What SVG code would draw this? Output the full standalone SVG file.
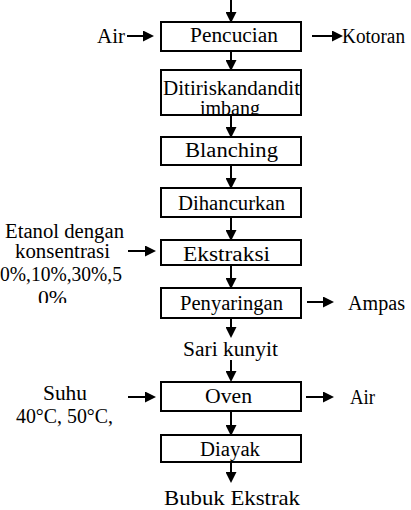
<svg xmlns="http://www.w3.org/2000/svg" width="411" height="510" viewBox="0 0 411 510">
<style>
text{font-family:"Liberation Serif","DejaVu Serif",serif;font-size:20px;fill:#000}
.box{fill:#fff;stroke:#000;stroke-width:2}
.ln{stroke:#000;stroke-width:2;fill:none;marker-end:url(#ah)}
.big{font-size:22px}
</style>
<defs>
<marker id="ah" markerUnits="userSpaceOnUse" markerWidth="11" markerHeight="11" refX="2" refY="5.5" orient="auto" viewBox="0 0 11 11">
<path d="M0,0 L11,5.5 L0,11 z" fill="#000"/>
</marker>
<clipPath id="clipDit"><rect x="161" y="70" width="140" height="46"/></clipPath>
<clipPath id="clipEt"><rect x="0" y="215" width="160" height="88"/></clipPath>
</defs>
<g id="connectors">
<path class="ln" d="M231,0 V14"/>
<path class="ln" d="M231,51 V62"/>
<path class="ln" d="M231,115 V129"/>
<path class="ln" d="M231,165 V180"/>
<path class="ln" d="M231,217 V232"/>
<path class="ln" d="M231,265 V280"/>
<path class="ln" d="M231,318 V329"/>
<path class="ln" d="M231,360 V373"/>
<path class="ln" d="M231,411 V427"/>
<path class="ln" d="M231,462 V474"/>
<path class="ln" d="M127,36 H145"/>
<path class="ln" d="M312,36 H334"/>
<path class="ln" d="M128,251 H147"/>
<path class="ln" d="M307,302 H325"/>
<path class="ln" d="M128,397 H147"/>
<path class="ln" d="M306,397 H325"/>
</g>
<g id="pencucian">
<rect class="box" x="161" y="22" width="140" height="29"/>
<text x="190" y="42" textLength="88" lengthAdjust="spacingAndGlyphs">Pencucian</text>
</g>
<g id="ditiriskan">
<rect class="box" x="161" y="70" width="140" height="45"/>
<g clip-path="url(#clipDit)">
<text x="163" y="95" textLength="137" lengthAdjust="spacingAndGlyphs">Ditiriskandandit</text>
<text x="200" y="115" textLength="60" lengthAdjust="spacingAndGlyphs">imbang</text>
</g>
</g>
<g id="blanching">
<rect class="box" x="161" y="137" width="140" height="28"/>
<text x="185" y="157" textLength="93" lengthAdjust="spacingAndGlyphs">Blanching</text>
</g>
<g id="dihancurkan">
<rect class="box" x="161" y="188" width="140" height="29"/>
<text x="178" y="210" textLength="107" lengthAdjust="spacingAndGlyphs">Dihancurkan</text>
</g>
<g id="ekstraksi">
<rect class="box" x="161" y="240" width="140" height="25"/>
<text x="183" y="261" textLength="87" lengthAdjust="spacingAndGlyphs">Ekstraksi</text>
</g>
<g id="penyaringan">
<rect class="box" x="161" y="288" width="140" height="30"/>
<text x="180" y="310" textLength="103" lengthAdjust="spacingAndGlyphs">Penyaringan</text>
</g>
<g id="sari">
<text x="183" y="356" textLength="95" lengthAdjust="spacingAndGlyphs">Sari kunyit</text>
</g>
<g id="oven">
<rect class="box" x="161" y="382" width="140" height="29"/>
<text x="205" y="403" textLength="47" lengthAdjust="spacingAndGlyphs">Oven</text>
</g>
<g id="diayak">
<rect class="box" x="161" y="435" width="140" height="27"/>
<text x="200" y="456" textLength="60" lengthAdjust="spacingAndGlyphs">Diayak</text>
</g>
<g id="bubuk">
<text class="big" x="164" y="505" textLength="136" lengthAdjust="spacingAndGlyphs">Bubuk Ekstrak</text>
</g>
<g id="air-in">
<text x="97" y="43" textLength="28" lengthAdjust="spacingAndGlyphs">Air</text>
</g>
<g id="kotoran">
<text x="342" y="43" textLength="63" lengthAdjust="spacingAndGlyphs">Kotoran</text>
</g>
<g id="etanol">
<g clip-path="url(#clipEt)">
<text x="5" y="238" textLength="119" lengthAdjust="spacingAndGlyphs">Etanol dengan</text>
<text x="15" y="258" textLength="95" lengthAdjust="spacingAndGlyphs">konsentrasi</text>
<text x="0" y="281" textLength="122" lengthAdjust="spacingAndGlyphs">0%,10%,30%,5</text>
<text x="38" y="305" textLength="29" lengthAdjust="spacingAndGlyphs">0%</text>
</g>
</g>
<g id="ampas">
<text x="348" y="310" textLength="57" lengthAdjust="spacingAndGlyphs">Ampas</text>
</g>
<g id="suhu">
<text x="43" y="400" textLength="44" lengthAdjust="spacingAndGlyphs">Suhu</text>
<text x="16" y="423" textLength="97" lengthAdjust="spacingAndGlyphs">40°C, 50°C,</text>
</g>
<g id="air-out">
<text x="350" y="404" textLength="25" lengthAdjust="spacingAndGlyphs">Air</text>
</g>
</svg>
